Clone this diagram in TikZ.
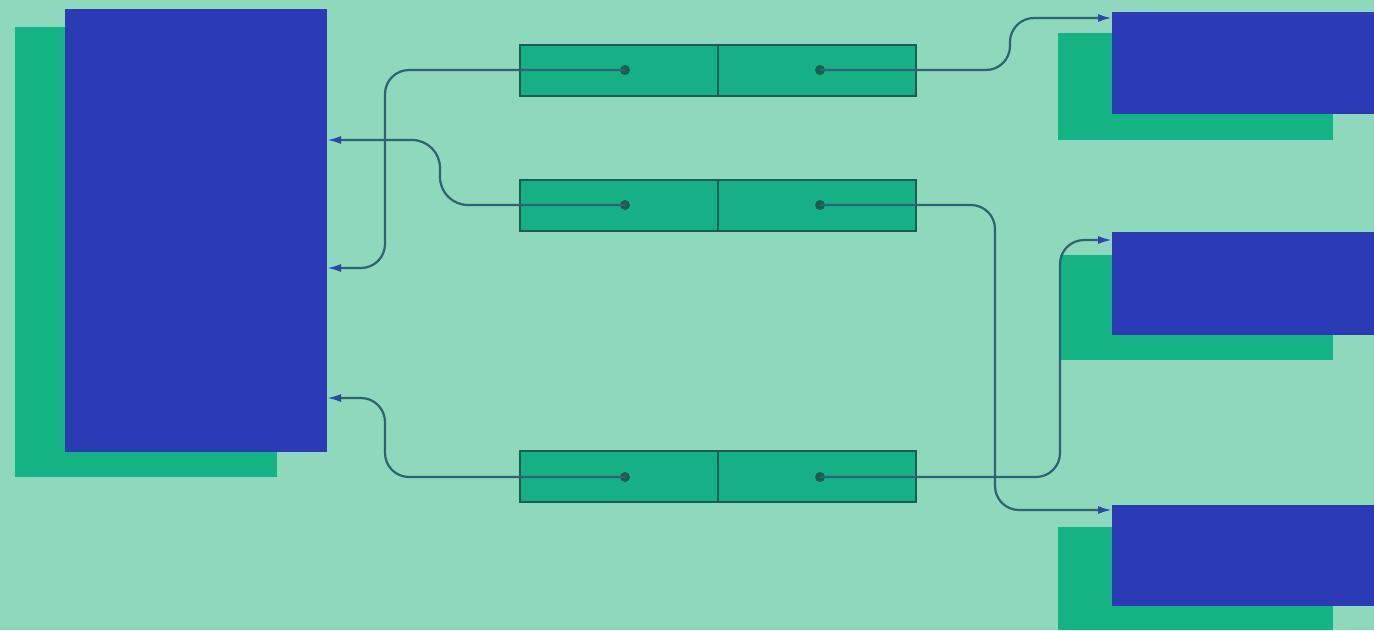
\documentclass[tikz,border=0pt]{standalone}
\usetikzlibrary{arrows.meta}
\definecolor{bgteal}{HTML}{8ED8BC}
\definecolor{blockblue}{HTML}{2B3AB5}
\definecolor{shadowgreen}{HTML}{13B384}
\definecolor{cellgreen}{HTML}{16B085}
\definecolor{celledge}{HTML}{1D5C4E}
\definecolor{wire}{HTML}{2F6272}
\definecolor{tipblue}{HTML}{2B47B2}
\tikzset{
  block/.style={fill=blockblue, draw=none, inner sep=0pt, outer sep=0pt},
  shadow/.style={fill=shadowgreen, draw=none},
  cell/.style={fill=cellgreen, draw=celledge, line width=2.4pt, inner sep=0pt, outer sep=0pt,
    minimum width=198pt, minimum height=51pt},
  dot/.style={circle, fill=celledge, inner sep=0pt, minimum size=10pt},
  wirelink/.style={draw=wire, line width=2.2pt, rounded corners=24pt,
    -{Latex[length=14pt,width=8pt,color=tipblue]}}
}
\begin{document}
\begin{tikzpicture}[x=1pt,y=-1pt]
\useasboundingbox (0,0) rectangle (1374,630);
\fill[bgteal] (0,0) rectangle (1374,630);

% left block and its shadow
\fill[shadow] (15,27) rectangle (277,477);
\node[block, minimum width=262pt, minimum height=443pt] (left) at (196,230.5) {};

% right blocks and their shadows
\fill[shadow] (1058,33) rectangle (1333,140);
\fill[shadow] (1060,255) rectangle (1333,360);
\fill[shadow] (1058,527) rectangle (1333,630);
\fill[blockblue] (1112,12) rectangle (1374,114);
\fill[blockblue] (1112,232) rectangle (1374,335);
\fill[blockblue] (1112,505) rectangle (1374,606);
\coordinate (rtop) at (1112,18);
\coordinate (rmid) at (1112,240);
\coordinate (rbot) at (1112,510);

% link cells
\node[cell] (c1a) at (619,70.5) {};
\node[cell] (c1b) at (817,70.5) {};
\node[cell] (c2a) at (619,205.5) {};
\node[cell] (c2b) at (817,205.5) {};
\node[cell] (c3a) at (619,476.5) {};
\node[cell] (c3b) at (817,476.5) {};

\node[dot] (d1a) at (625,70) {};
\node[dot] (d1b) at (820,70) {};
\node[dot] (d2a) at (625,205) {};
\node[dot] (d2b) at (820,205) {};
\node[dot] (d3a) at (625,477) {};
\node[dot] (d3b) at (820,477) {};

% ports on the left block
\coordinate (l1) at (left.east |- 0,140);
\coordinate (l2) at (left.east |- 0,268);
\coordinate (l3) at (left.east |- 0,398);

% wires
\draw[wirelink] (d1a.center) -- (385,70) -- (385,268) -- (l2);
\draw[wirelink, rounded corners=28pt] (d2a.center) -- (440,205) -- (440,140) -- (l1);
\draw[wirelink] (d3a.center) -- (385,477) -- (385,398) -- (l3);
\draw[wirelink] (d1b.center) -- (1010,70) -- (1010,18) -- (rtop);
\draw[wirelink] (d2b.center) -- (995,205) -- (995,510) -- (rbot);
\draw[wirelink] (d3b.center) -- (1060,477) -- (1060,240) -- (rmid);
\end{tikzpicture}
\end{document}
